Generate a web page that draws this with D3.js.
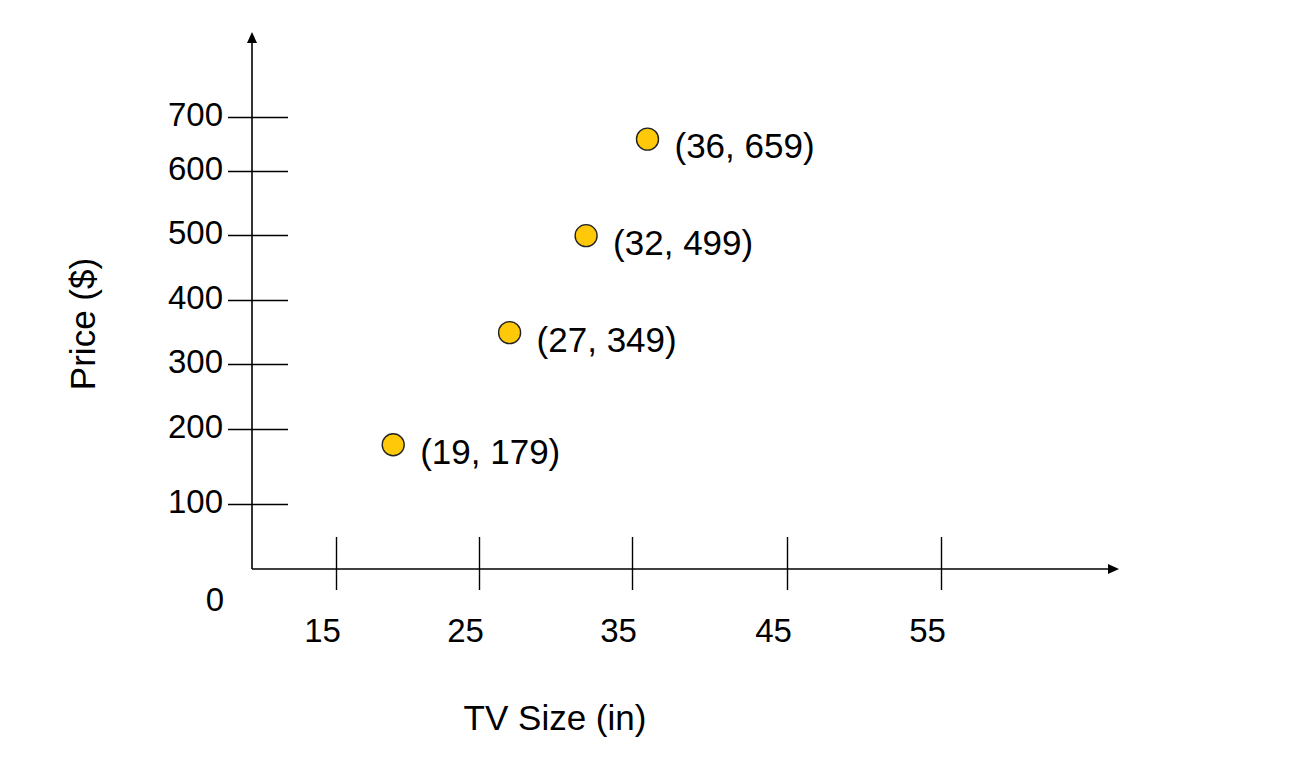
<!DOCTYPE html>
<html>
<head>
<meta charset="utf-8">
<script src="https://cdn.jsdelivr.net/npm/d3@7"></script>
<style>
  body { margin: 0; background: #fff; }
  text { font-family: "Liberation Sans", Arial, sans-serif; fill: #000; }
  .tick-label { font-size: 33px; }
  .point-label { font-size: 35px; }
  .axis-title { font-size: 35px; }
</style>
</head>
<body>
<div id="chart"></div>
<script>
// TV sizes (in) and prices ($)
const tvSizes = [19, 27, 32, 36];
const tvPrices = [179, 349, 499, 659];

// tick values
const xTickValues = [15, 25, 35, 45, 55];
const yTickValues = [100, 200, 300, 400, 500, 600, 700];

const width = 1309;
const height = 763;

// axis layout
const originX = 252, originY = 569;
const xAxisEnd = 1119, yAxisTop = 32;

const svg = d3.select("#chart")
    .append("svg")
    .attr("width", width)
    .attr("height", height);

// hand drawn spacing, so scales follow the tick marks piece by piece
const x = d3.scaleLinear()
    .domain(xTickValues)
    .range([336, 479, 632, 787, 941]);

const y = d3.scaleLinear()
    .domain([0].concat(yTickValues))
    .range([originY, 504, 429, 364, 300, 235, 171, 117]);

// axis lines
svg.append("line")
    .attr("x1", originX).attr("y1", originY)
    .attr("x2", originX).attr("y2", yAxisTop + 8)
    .attr("stroke", "#000").attr("stroke-width", 1.6);

svg.append("line")
    .attr("x1", originX).attr("y1", originY)
    .attr("x2", xAxisEnd - 8).attr("y2", originY)
    .attr("stroke", "#000").attr("stroke-width", 1.6);

// arrow heads
svg.append("path")
    .attr("d", `M${originX},${yAxisTop} L${originX - 5},${yAxisTop + 11} L${originX + 5},${yAxisTop + 11} Z`)
    .attr("fill", "#000");

svg.append("path")
    .attr("d", `M${xAxisEnd},${originY} L${xAxisEnd - 11},${originY - 5} L${xAxisEnd - 11},${originY + 5} Z`)
    .attr("fill", "#000");

// y ticks cross the axis
const yAxis = svg.append("g")
    .attr("transform", `translate(${originX}, 0)`)
    .call(d3.axisLeft(y).tickValues(yTickValues).tickSize(0).tickFormat(d3.format("d")));
yAxis.select(".domain").remove();
yAxis.selectAll(".tick line")
    .attr("x1", -24).attr("x2", 36)
    .attr("stroke", "#000").attr("stroke-width", 1.4);
yAxis.selectAll(".tick text")
    .attr("class", "tick-label")
    .attr("x", -29).attr("dy", "0.27em")
    .attr("fill", "#000");
yAxis.attr("font-size", null).attr("font-family", null);

// origin label
svg.append("text")
    .attr("class", "tick-label")
    .attr("x", originX - 28)
    .attr("y", y(0) + 42)
    .attr("text-anchor", "end")
    .text("0");

// x ticks
const xAxis = svg.append("g")
    .attr("transform", `translate(0, ${originY})`)
    .call(d3.axisBottom(x).tickValues(xTickValues).tickSize(0).tickFormat(d3.format("d")));
xAxis.select(".domain").remove();
xAxis.selectAll(".tick line")
    .attr("y1", -32).attr("y2", 21)
    .attr("stroke", "#000").attr("stroke-width", 1.4);
xAxis.selectAll(".tick text")
    .attr("class", "tick-label")
    .attr("x", -14).attr("y", 73).attr("dy", null)
    .attr("fill", "#000");
xAxis.attr("font-size", null).attr("font-family", null);

// points
const points = tvSizes.map((s, i) => ({ size: s, price: tvPrices[i] }));

svg.selectAll("circle.pt")
    .data(points)
    .enter()
    .append("circle")
    .attr("class", "pt")
    .attr("cx", d => x(d.size))
    .attr("cy", d => y(d.price))
    .attr("r", 11)
    .attr("fill", "#FFC90A")
    .attr("stroke", "#222")
    .attr("stroke-width", 1.4);

svg.selectAll("text.point-label")
    .data(points)
    .enter()
    .append("text")
    .attr("class", "point-label")
    .attr("x", d => x(d.size) + 27)
    .attr("y", d => y(d.price) + 19)
    .text(d => `(${d.size}, ${d.price})`);

// axis titles
svg.append("text")
    .attr("class", "axis-title")
    .attr("text-anchor", "middle")
    .attr("x", 555)
    .attr("y", 730)
    .text("TV Size (in)");

svg.append("text")
    .attr("class", "axis-title")
    .attr("text-anchor", "middle")
    .attr("transform", "translate(95, 324) rotate(-90)")
    .text("Price ($)");
</script>
</body>
</html>
